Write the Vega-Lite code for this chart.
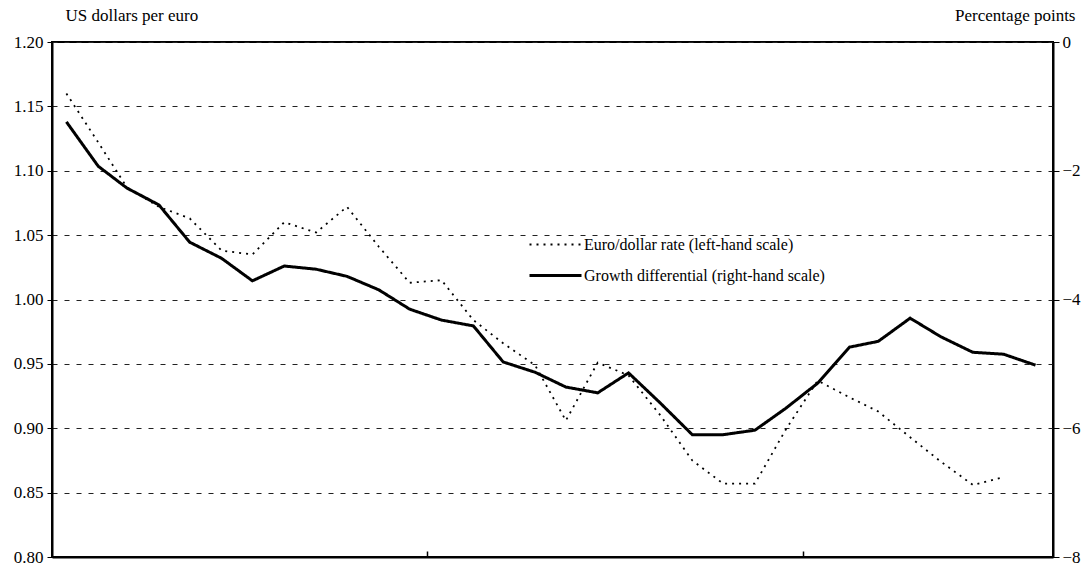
{
  "$schema": "https://vega.github.io/schema/vega-lite/v6.json",
  "width": 1001,
  "height": 515,
  "autosize": {"type": "none"},
  "padding": {"left": 52, "top": 42, "right": 32, "bottom": 12},
  "background": "white",
  "config": {
    "font": "Liberation Serif",
    "view": {"stroke": "black", "strokeWidth": 2},
    "axis": {"labelFont": "Liberation Serif", "titleFont": "Liberation Serif", "labelColor": "black", "titleColor": "black", "domainColor": "black", "tickColor": "black", "domainWidth": 2}
  },
  "datasets": {
    "euro": [
      {"month": "1999-01-15", "series": "Euro/dollar rate  (left-hand scale)", "value": 1.160},
      {"month": "1999-02-15", "series": "Euro/dollar rate  (left-hand scale)", "value": 1.122},
      {"month": "1999-03-15", "series": "Euro/dollar rate  (left-hand scale)", "value": 1.087},
      {"month": "1999-04-15", "series": "Euro/dollar rate  (left-hand scale)", "value": 1.072},
      {"month": "1999-05-15", "series": "Euro/dollar rate  (left-hand scale)", "value": 1.063},
      {"month": "1999-06-15", "series": "Euro/dollar rate  (left-hand scale)", "value": 1.038},
      {"month": "1999-07-15", "series": "Euro/dollar rate  (left-hand scale)", "value": 1.035},
      {"month": "1999-08-15", "series": "Euro/dollar rate  (left-hand scale)", "value": 1.060},
      {"month": "1999-09-15", "series": "Euro/dollar rate  (left-hand scale)", "value": 1.052},
      {"month": "1999-10-15", "series": "Euro/dollar rate  (left-hand scale)", "value": 1.072},
      {"month": "1999-11-15", "series": "Euro/dollar rate  (left-hand scale)", "value": 1.041},
      {"month": "1999-12-15", "series": "Euro/dollar rate  (left-hand scale)", "value": 1.013},
      {"month": "2000-01-15", "series": "Euro/dollar rate  (left-hand scale)", "value": 1.015},
      {"month": "2000-02-15", "series": "Euro/dollar rate  (left-hand scale)", "value": 0.984},
      {"month": "2000-03-15", "series": "Euro/dollar rate  (left-hand scale)", "value": 0.966},
      {"month": "2000-04-15", "series": "Euro/dollar rate  (left-hand scale)", "value": 0.949},
      {"month": "2000-05-15", "series": "Euro/dollar rate  (left-hand scale)", "value": 0.906},
      {"month": "2000-06-15", "series": "Euro/dollar rate  (left-hand scale)", "value": 0.951},
      {"month": "2000-07-15", "series": "Euro/dollar rate  (left-hand scale)", "value": 0.941},
      {"month": "2000-08-15", "series": "Euro/dollar rate  (left-hand scale)", "value": 0.910},
      {"month": "2000-09-15", "series": "Euro/dollar rate  (left-hand scale)", "value": 0.875},
      {"month": "2000-10-15", "series": "Euro/dollar rate  (left-hand scale)", "value": 0.857},
      {"month": "2000-11-15", "series": "Euro/dollar rate  (left-hand scale)", "value": 0.857},
      {"month": "2000-12-15", "series": "Euro/dollar rate  (left-hand scale)", "value": 0.899},
      {"month": "2001-01-15", "series": "Euro/dollar rate  (left-hand scale)", "value": 0.937},
      {"month": "2001-02-15", "series": "Euro/dollar rate  (left-hand scale)", "value": 0.924},
      {"month": "2001-03-15", "series": "Euro/dollar rate  (left-hand scale)", "value": 0.913},
      {"month": "2001-04-15", "series": "Euro/dollar rate  (left-hand scale)", "value": 0.893},
      {"month": "2001-05-15", "series": "Euro/dollar rate  (left-hand scale)", "value": 0.874},
      {"month": "2001-06-15", "series": "Euro/dollar rate  (left-hand scale)", "value": 0.856},
      {"month": "2001-07-15", "series": "Euro/dollar rate  (left-hand scale)", "value": 0.862}
    ],
    "growth": [
      {"month": "1999-01-15", "series": "Growth differential (right-hand scale)", "value": -1.24},
      {"month": "1999-02-15", "series": "Growth differential (right-hand scale)", "value": -1.93},
      {"month": "1999-03-15", "series": "Growth differential (right-hand scale)", "value": -2.27},
      {"month": "1999-04-15", "series": "Growth differential (right-hand scale)", "value": -2.53},
      {"month": "1999-05-15", "series": "Growth differential (right-hand scale)", "value": -3.11},
      {"month": "1999-06-15", "series": "Growth differential (right-hand scale)", "value": -3.36},
      {"month": "1999-07-15", "series": "Growth differential (right-hand scale)", "value": -3.71},
      {"month": "1999-08-15", "series": "Growth differential (right-hand scale)", "value": -3.48},
      {"month": "1999-09-15", "series": "Growth differential (right-hand scale)", "value": -3.53},
      {"month": "1999-10-15", "series": "Growth differential (right-hand scale)", "value": -3.64},
      {"month": "1999-11-15", "series": "Growth differential (right-hand scale)", "value": -3.85},
      {"month": "1999-12-15", "series": "Growth differential (right-hand scale)", "value": -4.15},
      {"month": "2000-01-15", "series": "Growth differential (right-hand scale)", "value": -4.32},
      {"month": "2000-02-15", "series": "Growth differential (right-hand scale)", "value": -4.41},
      {"month": "2000-03-15", "series": "Growth differential (right-hand scale)", "value": -4.97},
      {"month": "2000-04-15", "series": "Growth differential (right-hand scale)", "value": -5.13},
      {"month": "2000-05-15", "series": "Growth differential (right-hand scale)", "value": -5.36},
      {"month": "2000-06-15", "series": "Growth differential (right-hand scale)", "value": -5.45},
      {"month": "2000-07-15", "series": "Growth differential (right-hand scale)", "value": -5.14},
      {"month": "2000-08-15", "series": "Growth differential (right-hand scale)", "value": -5.61},
      {"month": "2000-09-15", "series": "Growth differential (right-hand scale)", "value": -6.10},
      {"month": "2000-10-15", "series": "Growth differential (right-hand scale)", "value": -6.10},
      {"month": "2000-11-15", "series": "Growth differential (right-hand scale)", "value": -6.03},
      {"month": "2000-12-15", "series": "Growth differential (right-hand scale)", "value": -5.69},
      {"month": "2001-01-15", "series": "Growth differential (right-hand scale)", "value": -5.30},
      {"month": "2001-02-15", "series": "Growth differential (right-hand scale)", "value": -4.74},
      {"month": "2001-03-15", "series": "Growth differential (right-hand scale)", "value": -4.65},
      {"month": "2001-04-15", "series": "Growth differential (right-hand scale)", "value": -4.29},
      {"month": "2001-05-15", "series": "Growth differential (right-hand scale)", "value": -4.58},
      {"month": "2001-06-15", "series": "Growth differential (right-hand scale)", "value": -4.82},
      {"month": "2001-07-15", "series": "Growth differential (right-hand scale)", "value": -4.85},
      {"month": "2001-08-15", "series": "Growth differential (right-hand scale)", "value": -5.02}
    ]
  },
  "encoding": {
    "x": {
      "field": "month",
      "type": "temporal",
      "scale": {"domain": [{"year": 1999, "month": 1, "date": 1, "utc": true}, {"year": 2001, "month": 9, "date": 1, "utc": true}]},
      "axis": {
        "title": null,
        "labels": false,
        "grid": false,
        "values": [{"year": 2000, "month": 1, "date": 1, "utc": true}, {"year": 2001, "month": 1, "date": 1, "utc": true}],
        "tickSize": -6,
        "tickWidth": 1.5
      }
    },
    "strokeDash": {
      "field": "series",
      "type": "nominal",
      "scale": {"domain": ["Euro/dollar rate  (left-hand scale)", "Growth differential (right-hand scale)"], "range": [[2, 5], [1, 0]]},
      "legend": {
        "title": null,
        "orient": "none",
        "legendX": 476,
        "legendY": 188,
        "symbolType": "stroke",
        "symbolSize": 2704,
        "symbolStrokeColor": "black",
        "labelFont": "Liberation Serif",
        "labelFontSize": 16,
        "labelColor": "black",
        "labelOffset": 1,
        "labelLimit": 500,
        "clipHeight": 29,
        "rowPadding": 2
      }
    },
    "strokeWidth": {
      "field": "series",
      "type": "nominal",
      "scale": {"domain": ["Euro/dollar rate  (left-hand scale)", "Growth differential (right-hand scale)"], "range": [1.8, 3]},
      "legend": null
    }
  },
  "layer": [
    {
      "data": {"name": "euro"},
      "mark": {"type": "line", "color": "black"},
      "encoding": {
        "y": {
          "field": "value",
          "type": "quantitative",
          "scale": {"domain": [0.8, 1.2], "nice": false, "zero": false},
          "axis": {
            "orient": "left",
            "values": [0.8, 0.85, 0.9, 0.95, 1.0, 1.05, 1.1, 1.15, 1.2],
            "format": ".2f",
            "labelFontSize": 17,
            "tickSize": 5,
            "labelPadding": 4,
            "grid": true,
            "gridDash": [5, 7],
            "gridColor": "#222",
            "gridWidth": 1,
            "title": "US dollars per euro",
            "titleAngle": 0,
            "titleFontSize": 17,
            "titleFontWeight": "normal",
            "titleAlign": "left",
            "titleBaseline": "middle",
            "titleX": 13,
            "titleY": -27
          }
        }
      }
    },
    {
      "data": {"name": "growth"},
      "mark": {"type": "line", "color": "black"},
      "encoding": {
        "y": {
          "field": "value",
          "type": "quantitative",
          "scale": {"domain": [-8, 0], "nice": false, "zero": false},
          "axis": {
            "orient": "right",
            "values": [-8, -6, -4, -2, 0],
            "format": "d",
            "labelFontSize": 17,
            "tickSize": 6,
            "labelPadding": 3,
            "grid": false,
            "title": "Percentage points",
            "titleAngle": 0,
            "titleFontSize": 17,
            "titleFontWeight": "normal",
            "titleAlign": "right",
            "titleBaseline": "middle",
            "titleX": 22,
            "titleY": -27
          }
        }
      }
    }
  ],
  "resolve": {"scale": {"y": "independent"}}
}
